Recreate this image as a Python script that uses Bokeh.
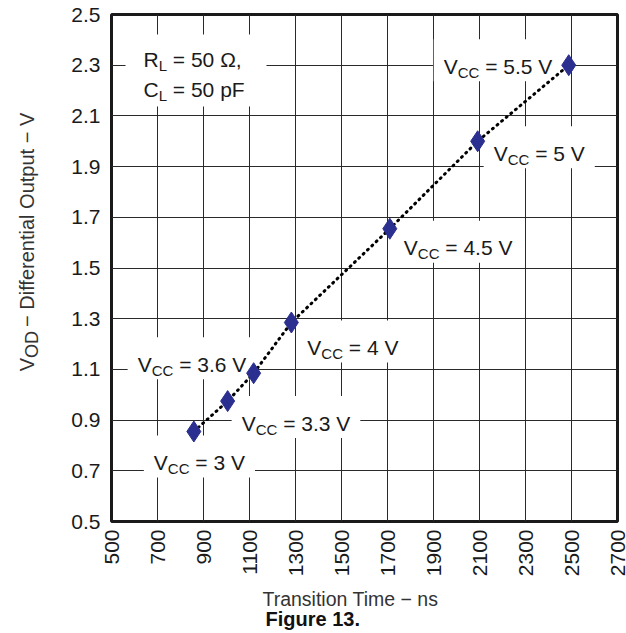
import math
from bokeh.plotting import figure
from bokeh.layouts import row, column
from bokeh.models import Label, BoxAnnotation, FixedTicker
from bokeh.embed import file_html
from bokeh.resources import INLINE

# ---------------- data ----------------
vcc_levels = ["3 V", "3.3 V", "3.6 V", "4 V", "4.5 V", "5 V", "5.5 V"]
transition_ns = [858, 1005, 1118, 1282, 1710, 2092, 2488]
vod_volts = [0.855, 0.975, 1.085, 1.285, 1.655, 2.0, 2.3]

x_ticks = [500, 700, 900, 1100, 1300, 1500, 1700, 1900, 2100, 2300, 2500, 2700]
x_tick_labels = ["500", "700", "900", "1100", "1300", "1500", "1700", "1900",
                 "2100", "2300", "2500", "2700"]
y_ticks = [0.5, 0.7, 0.9, 1.1, 1.3, 1.5, 1.7, 1.9, 2.1, 2.3, 2.5]
y_tick_labels = ["0.5", "0.7", "0.9", "1.1", "1.3", "1.5", "1.7", "1.9", "2.1", "2.3", "2.5"]

load_conditions = [("R", "L", " = 50 Ω,"), ("C", "L", " = 50 pF")]
x_title = "Transition Time − ns"
y_title = ("V", "OD", " − Differential Output − V")
caption = "Figure 13."

# ---------------- layout (pixels) ----------------
TOTAL_W, TOTAL_H = 626, 633
LW = 50                      # strip holding the y title
MW, MH = TOTAL_W - LW, 580   # main figure
BH = TOTAL_H - MH            # strip holding x title + caption
STRIP_SHIFT = 7              # observed extra offset of the bottom strip
BL, BR, BT, BB = 61, 9, 14, 59
FW, FH = MW - BL - BR, MH - BT - BB
X0, X1 = x_ticks[0], x_ticks[-1]
Y0, Y1 = y_ticks[0], y_ticks[-1]

FONT = "Liberation Sans"
MAIN, SUB, DROP = 21, 15, 6
INK = "#1a1a1a"
GREY = "#333333"

# label placement relative to each point (px: right, down)
label_offsets = [(-40, 31), (14, 22), (-116, -9), (16, 25), (14, 19), (16, 12), (-125, 1)]
BOX_PAD = (10, 10, 27, 15)  # left, right, above baseline, below baseline


def dx(px):
    return X0 + (px - LW - BL) * (X1 - X0) / FW


def dy(py):
    return Y1 - (py - BT) * (Y1 - Y0) / FH


def px_of(x):
    return LW + BL + (x - X0) * FW / (X1 - X0)


def py_of(y):
    return BT + (Y1 - y) * FH / (Y1 - Y0)


CW = {'.': .278, ' ': .278, '=': .584, 'V': .667, 'C': .722, 'R': .722, 'L': .556,
      'Ω': .768, ',': .278, 'p': .556, 'F': .611, 'O': .778, 'D': .722, 'i': .222,
      'f': .278, 'e': .556, 'r': .333, 'n': .556, 't': .278, 'a': .556, 'l': .222,
      'u': .556, '−': .584, 'T': .611, 'm': .833, 's': .5}


def tw(s, size):
    return sum(CW.get(c, .556) for c in s) * size


def make_label(fig_x, fig_y, text, size, bold=False, color=INK, angle=0.0):
    return Label(x=fig_x, y=fig_y, text=text, text_font=FONT,
                 text_font_size=f"{size}px", text_color=color,
                 text_font_style="bold" if bold else "normal",
                 text_align="left", text_baseline="alphabetic", angle=angle)


def strip_lead(text, size):
    n = len(text) - len(text.lstrip(" "))
    return text.lstrip(" "), n * CW[' '] * size


# ================= main figure =================
p = figure(width=MW, height=MH, x_range=(X0, X1), y_range=(Y0, Y1),
           output_backend="svg", toolbar_location=None, title=None,
           min_border_left=BL, min_border_right=BR, min_border_top=BT,
           min_border_bottom=BB)
p.background_fill_color = "white"
p.border_fill_color = "white"
p.outline_line_color = INK
p.outline_line_width = 3

for ax, ticks, labels in ((p.xaxis, x_ticks, x_tick_labels), (p.yaxis, y_ticks, y_tick_labels)):
    ax.ticker = FixedTicker(ticks=ticks)
    ax.major_label_overrides = {t: l for t, l in zip(ticks, labels)}
    ax.axis_line_color = None
    ax.major_tick_line_color = None
    ax.minor_tick_line_color = None
    ax.major_tick_out = 0
    ax.major_tick_in = 0
    ax.major_label_text_font = FONT
    ax.major_label_text_font_size = f"{MAIN}px"
    ax.major_label_text_color = INK
p.xaxis.major_label_orientation = math.pi / 2
p.xaxis.major_label_standoff = 8
p.yaxis.major_label_standoff = 11

for g in (p.xgrid, p.ygrid):
    g.grid_line_color = "#2a2a2a"
    g.grid_line_width = 1
    g.grid_line_alpha = 1.0


def add_box(left_px, right_px, top_px, bottom_px):
    p.add_layout(BoxAnnotation(left=dx(left_px), right=dx(right_px),
                               top=dy(top_px), bottom=dy(bottom_px),
                               fill_color="white", fill_alpha=1.0,
                               line_color=None, level="underlay"))


def add_text(px, py, text, size, color=INK):
    t, shift = strip_lead(text, size)
    p.add_layout(make_label(dx(px + shift), dy(py), t, size, color=color))


def add_sub_text(px, py, main, sub, rest, size=MAIN, sub_size=SUB, drop=DROP):
    add_text(px, py, main, size)
    x2 = px + tw(main, size)
    add_text(x2, py + drop, sub, sub_size)
    x3 = x2 + tw(sub, sub_size)
    add_text(x3, py, rest, size)


anchors = [(px_of(x) + o[0], py_of(y) + o[1])
           for x, y, o in zip(transition_ns, vod_volts, label_offsets)]

for (ax_, ay_), lev in zip(anchors, vcc_levels):
    width = tw("V", MAIN) + tw("CC", SUB) + tw(" = " + lev, MAIN)
    add_box(ax_ - BOX_PAD[0], ax_ + width + BOX_PAD[1], ay_ - BOX_PAD[2], ay_ + BOX_PAD[3])

cond_x, cond_y0, cond_dy = 143, 58.5, 30.5
add_box(cond_x - 18, cond_x + 123, cond_y0 - 24.5, cond_y0 + cond_dy + 17)

p.line(transition_ns, vod_volts, line_color="black", line_width=3,
       line_dash="1 5", line_cap="round")
p.scatter(transition_ns, vod_volts, marker="diamond", size=21,
          fill_color="#2b2f8f", line_color="#2b2f8f", line_width=1)

for (ax_, ay_), lev in zip(anchors, vcc_levels):
    add_sub_text(ax_, ay_, "V", "CC", " = " + lev)

for i, (m, s, r) in enumerate(load_conditions):
    add_sub_text(cond_x, cond_y0 + i * cond_dy, m, s, r)


# ================= helper strips for titles =================
def strip_fig(w, h):
    f = figure(width=w, height=h, x_range=(0, w), y_range=(0, h),
               x_axis_type=None, y_axis_type=None, output_backend="svg",
               toolbar_location=None, title=None, min_border=0)
    f.outline_line_color = None
    f.background_fill_color = "white"
    f.border_fill_color = "white"
    return f


# left strip: rotated y title (reads bottom to top)
left = strip_fig(LW, MH)


def ly(py):
    return MH - py


yb, sub_shift = 26.7, 4.5
v_start, od_start, rest_start = 408, 393, 363
left.add_layout(make_label(yb, ly(v_start), y_title[0], 20, color=GREY, angle=math.pi / 2))
left.add_layout(make_label(yb + sub_shift, ly(od_start), y_title[1], 18, color=GREY,
                           angle=math.pi / 2))
rest, sh = strip_lead(y_title[2], 20)
left.add_layout(make_label(yb, ly(rest_start - sh), rest, 20, color=GREY, angle=math.pi / 2))

# bottom strip: x title + caption
bottom = strip_fig(TOTAL_W, BH)


def by(py):
    return BH - (py - MH - STRIP_SHIFT)


bottom.add_layout(make_label(262, by(605), x_title, 19.5, color=GREY))
bottom.add_layout(make_label(265, by(625), caption, 20, bold=True, color="#111111"))

layout = column(row(left, p, spacing=0), bottom, spacing=0)
open("out.html", "w").write(file_html(layout, INLINE))
